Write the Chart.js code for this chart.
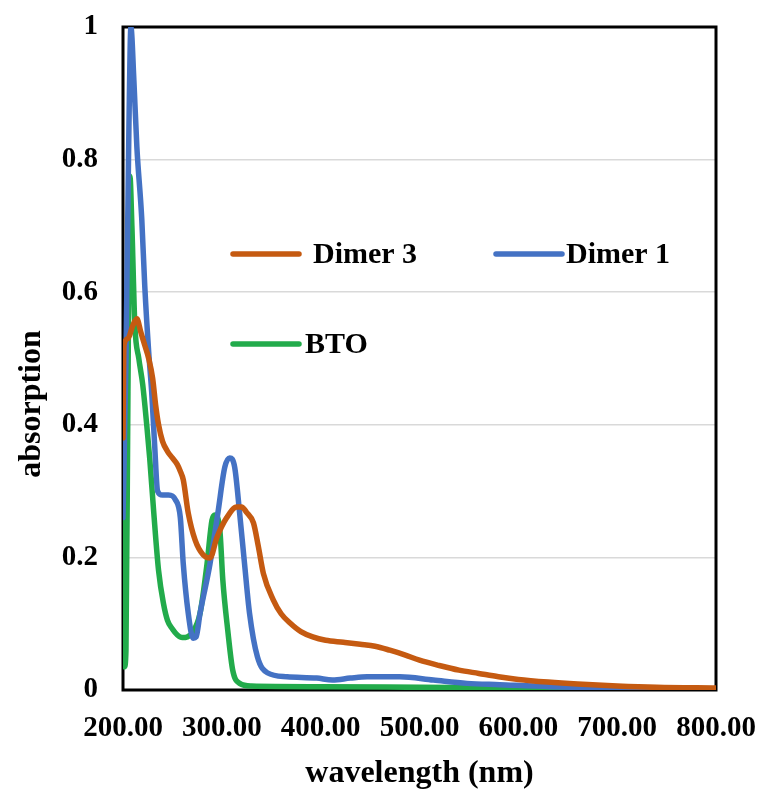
<!DOCTYPE html>
<html>
<head>
<meta charset="utf-8">
<script src="https://cdn.jsdelivr.net/npm/chart.js@4/dist/chart.umd.min.js"></script>
<style>
  html, body { margin: 0; padding: 0; background: #fff; }
  #wrap { width: 761px; height: 791px; }
</style>
</head>
<body>
<div id="wrap"><canvas id="absChart"></canvas></div>
<script>
// wavelength (nm) / absorption
const dimer3Wl  = [200, 201, 205, 210, 214, 218, 222, 226, 230, 233, 236, 240, 245, 250, 255, 258, 261, 266, 273, 281, 288, 295, 305, 315, 320, 325, 332, 337, 342, 352, 360, 369, 380, 392, 405, 423, 440, 455, 470, 485, 500, 520, 540, 560, 580, 600, 630, 660, 700, 740, 800];
const dimer3Abs = [0.38, 0.52, 0.53, 0.55, 0.56, 0.54, 0.52, 0.50, 0.47, 0.43, 0.40, 0.375, 0.36, 0.35, 0.34, 0.33, 0.317, 0.267, 0.226, 0.204, 0.199, 0.23, 0.26, 0.276, 0.276, 0.268, 0.252, 0.216, 0.176, 0.136, 0.115, 0.101, 0.088, 0.08, 0.075, 0.072, 0.069, 0.066, 0.06, 0.053, 0.045, 0.037, 0.03, 0.025, 0.02, 0.016, 0.012, 0.009, 0.006, 0.004, 0.003];

const dimer1Wl  = [200, 203, 206, 208, 211, 214, 219, 222, 226, 229, 232, 235, 240, 246, 253, 258, 261, 266, 271, 274, 278, 288, 296, 303, 308, 313, 318, 323, 328, 336, 346, 366, 396, 412, 430, 447, 480, 514, 548, 581, 632, 700, 800];
const dimer1Abs = [0.26, 0.5, 0.85, 1.0, 0.92, 0.82, 0.71, 0.61, 0.51, 0.45, 0.37, 0.30, 0.294, 0.294, 0.287, 0.26, 0.19, 0.116, 0.078, 0.08, 0.116, 0.19, 0.267, 0.336, 0.35, 0.336, 0.267, 0.19, 0.116, 0.05, 0.026, 0.02, 0.018, 0.015, 0.018, 0.02, 0.02, 0.015, 0.01, 0.008, 0.005, 0.003, 0.002];

const btoWl  = [200, 201.5, 203, 205, 207, 209, 212, 216, 220, 224, 227, 231, 236, 241, 245, 250, 255, 260, 265, 270, 278, 285, 290, 293, 298, 301, 306, 311, 318, 330, 400, 500, 600, 700, 800];
const btoAbs = [0.38, 0.035, 0.06, 0.45, 0.775, 0.70, 0.55, 0.50, 0.46, 0.40, 0.35, 0.27, 0.18, 0.13, 0.105, 0.092, 0.083, 0.079, 0.08, 0.086, 0.116, 0.19, 0.256, 0.264, 0.241, 0.166, 0.09, 0.03, 0.01, 0.006, 0.005, 0.004, 0.003, 0.002, 0.002];

const seriesNames = ['Dimer 3', 'Dimer 1', 'BTO'];
const seriesColors = ['#C55A11', '#4472C4', '#22AB4B'];
const xTitle = 'wavelength (nm)';
const yTitle = 'absorption';

const serif = '"Liberation Serif", "Times New Roman", serif';

function toPoints(xs, ys) {
  return xs.map((x, i) => ({ x: x, y: ys[i] }));
}

// black frame around the plot area
const frame = {
  id: 'frame',
  beforeDatasetsDraw(chart) {
    const a = chart.chartArea;
    const ctx = chart.ctx;
    ctx.save();
    ctx.strokeStyle = '#000';
    ctx.lineWidth = 3;
    ctx.strokeRect(a.left, a.top, a.right - a.left, a.bottom - a.top);
    ctx.restore();
  }
};

// axis titles and the legend, placed like the original
const labels = {
  id: 'labels',
  afterDraw(chart) {
    const ctx = chart.ctx;
    const a = chart.chartArea;
    ctx.save();
    ctx.fillStyle = '#000';
    ctx.font = 'bold 32px ' + serif;
    ctx.textAlign = 'center';
    ctx.textBaseline = 'alphabetic';
    ctx.fillText(xTitle, (a.left + a.right) / 2, 782);
    ctx.translate(40, 404);
    ctx.rotate(-Math.PI / 2);
    ctx.fillText(yTitle, 0, 0);
    ctx.restore();

    const spots = [
      { lx: 233, ly: 254, tx: 313 },
      { lx: 496, ly: 254, tx: 566 },
      { lx: 233, ly: 344, tx: 305 }
    ];
    ctx.save();
    ctx.font = 'bold 30px ' + serif;
    ctx.textBaseline = 'middle';
    ctx.lineCap = 'round';
    spots.forEach((s, i) => {
      ctx.strokeStyle = seriesColors[i];
      ctx.lineWidth = 5.5;
      ctx.beginPath();
      ctx.moveTo(s.lx, s.ly);
      ctx.lineTo(s.lx + 66, s.ly);
      ctx.stroke();
      ctx.fillStyle = '#000';
      ctx.fillText(seriesNames[i], s.tx, s.ly + 1);
    });
    ctx.restore();
  }
};

const ctx = document.getElementById('absChart').getContext('2d');

new Chart(ctx, {
  type: 'line',
  data: {
    datasets: [
      { label: seriesNames[0], data: toPoints(dimer3Wl, dimer3Abs), borderColor: seriesColors[0] },
      { label: seriesNames[1], data: toPoints(dimer1Wl, dimer1Abs), borderColor: seriesColors[1] },
      { label: seriesNames[2], data: toPoints(btoWl, btoAbs), borderColor: seriesColors[2] }
    ]
  },
  options: {
    responsive: true,
    maintainAspectRatio: false,
    animation: false,
    layout: { padding: { top: 27, right: 45, left: 0, bottom: 0 } },
    elements: {
      line: { borderWidth: 5.5, cubicInterpolationMode: 'monotone', borderCapStyle: 'round', borderJoinStyle: 'round' },
      point: { radius: 0 }
    },
    plugins: {
      legend: { display: false },
      tooltip: { enabled: false }
    },
    scales: {
      x: {
        type: 'linear',
        min: 200,
        max: 800,
        grid: { display: false },
        border: { display: false },
        ticks: {
          stepSize: 100,
          padding: 13,
          color: '#000',
          font: { family: serif, size: 29, weight: 'bold' },
          maxRotation: 0,
          callback: v => v.toFixed(2)
        },
        afterFit: s => { s.height = 101; s.paddingLeft = 0; s.paddingRight = 0; }
      },
      y: {
        min: 0,
        max: 1,
        grid: { color: '#D9D9D9', lineWidth: 1.5, drawTicks: false },
        border: { display: false },
        ticks: {
          stepSize: 0.2,
          padding: 25,
          color: '#000',
          font: { family: serif, size: 29, weight: 'bold' },
          callback: v => (v === 0 || v === 1) ? String(v) : v.toFixed(1)
        },
        afterFit: s => { s.width = 123; s.paddingTop = 0; s.paddingBottom = 0; }
      }
    }
  },
  plugins: [frame, labels]
});
</script>
</body>
</html>
